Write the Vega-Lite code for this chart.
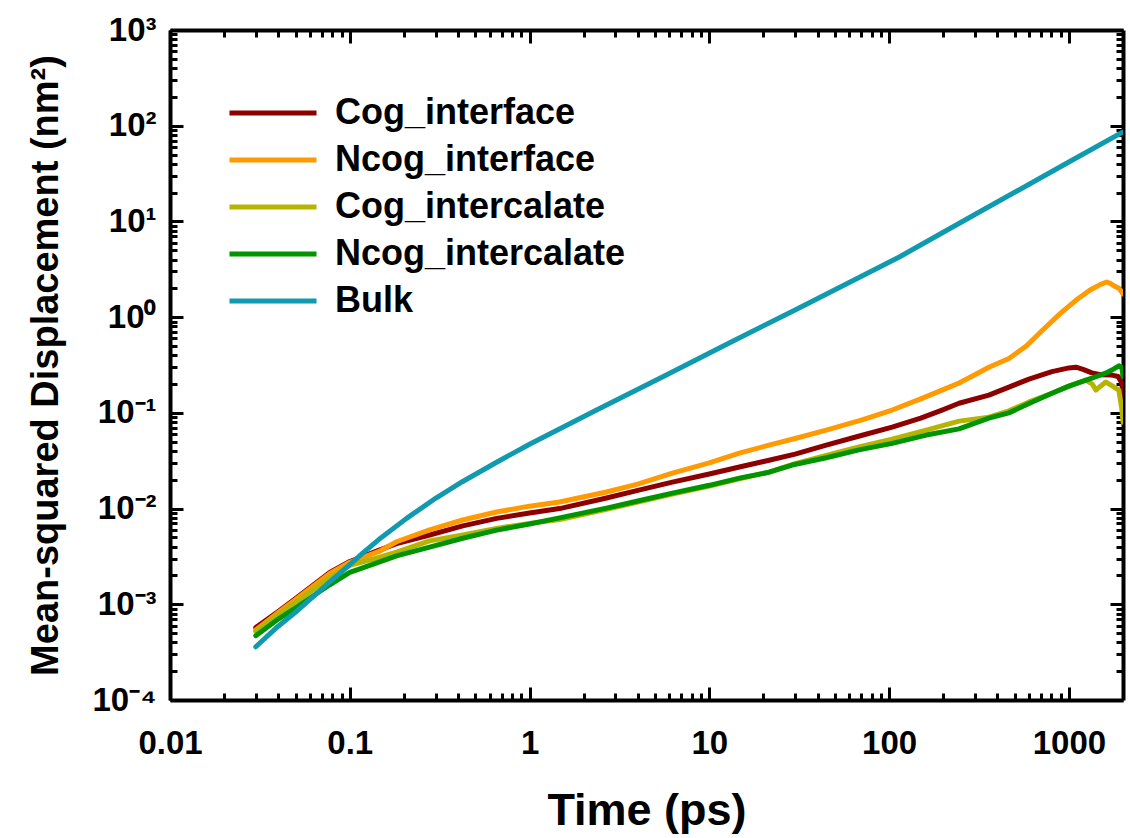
{
  "$schema": "https://vega.github.io/schema/vega-lite/v6.json",
  "width": 953,
  "height": 670,
  "autosize": {"type": "none"},
  "padding": {"left": 170, "top": 30, "right": 7, "bottom": 138},
  "background": "white",
  "config": {"view": {"stroke": null}, "font": "Liberation Sans"},
  "datasets": {
    "msd": [
      {"series": "Cog_interface", "t": 0.03, "msd": 0.00057},
      {"series": "Cog_interface", "t": 0.04, "msd": 0.00084},
      {"series": "Cog_interface", "t": 0.05, "msd": 0.00115},
      {"series": "Cog_interface", "t": 0.0774, "msd": 0.00215},
      {"series": "Cog_interface", "t": 0.1, "msd": 0.0028},
      {"series": "Cog_interface", "t": 0.147, "msd": 0.0037},
      {"series": "Cog_interface", "t": 0.182, "msd": 0.0043},
      {"series": "Cog_interface", "t": 0.278, "msd": 0.0053},
      {"series": "Cog_interface", "t": 0.425, "msd": 0.0066},
      {"series": "Cog_interface", "t": 0.656, "msd": 0.0079},
      {"series": "Cog_interface", "t": 1.0, "msd": 0.009},
      {"series": "Cog_interface", "t": 1.47, "msd": 0.01},
      {"series": "Cog_interface", "t": 2.68, "msd": 0.0129},
      {"series": "Cog_interface", "t": 4.0, "msd": 0.0155},
      {"series": "Cog_interface", "t": 6.23, "msd": 0.0189},
      {"series": "Cog_interface", "t": 10, "msd": 0.023},
      {"series": "Cog_interface", "t": 14.7, "msd": 0.0272},
      {"series": "Cog_interface", "t": 21.5, "msd": 0.032},
      {"series": "Cog_interface", "t": 30, "msd": 0.037},
      {"series": "Cog_interface", "t": 44.7, "msd": 0.046},
      {"series": "Cog_interface", "t": 70, "msd": 0.058},
      {"series": "Cog_interface", "t": 104, "msd": 0.071},
      {"series": "Cog_interface", "t": 150, "msd": 0.088},
      {"series": "Cog_interface", "t": 197, "msd": 0.107},
      {"series": "Cog_interface", "t": 245, "msd": 0.126},
      {"series": "Cog_interface", "t": 359, "msd": 0.153},
      {"series": "Cog_interface", "t": 464, "msd": 0.186},
      {"series": "Cog_interface", "t": 600, "msd": 0.225},
      {"series": "Cog_interface", "t": 805, "msd": 0.27},
      {"series": "Cog_interface", "t": 1000, "msd": 0.295},
      {"series": "Cog_interface", "t": 1094, "msd": 0.3},
      {"series": "Cog_interface", "t": 1200, "msd": 0.285},
      {"series": "Cog_interface", "t": 1342, "msd": 0.262},
      {"series": "Cog_interface", "t": 1500, "msd": 0.25},
      {"series": "Cog_interface", "t": 1734, "msd": 0.248},
      {"series": "Cog_interface", "t": 1880, "msd": 0.24},
      {"series": "Cog_interface", "t": 1969, "msd": 0.205},
      {"series": "Cog_interface", "t": 2000, "msd": 0.15},

      {"series": "Ncog_interface", "t": 0.03, "msd": 0.00054},
      {"series": "Ncog_interface", "t": 0.04, "msd": 0.00082},
      {"series": "Ncog_interface", "t": 0.05, "msd": 0.00112},
      {"series": "Ncog_interface", "t": 0.0774, "msd": 0.0021},
      {"series": "Ncog_interface", "t": 0.1, "msd": 0.00275},
      {"series": "Ncog_interface", "t": 0.147, "msd": 0.0036},
      {"series": "Ncog_interface", "t": 0.182, "msd": 0.0045},
      {"series": "Ncog_interface", "t": 0.278, "msd": 0.006},
      {"series": "Ncog_interface", "t": 0.425, "msd": 0.0076},
      {"series": "Ncog_interface", "t": 0.656, "msd": 0.0092},
      {"series": "Ncog_interface", "t": 1.0, "msd": 0.0106},
      {"series": "Ncog_interface", "t": 1.47, "msd": 0.0117},
      {"series": "Ncog_interface", "t": 2.68, "msd": 0.0149},
      {"series": "Ncog_interface", "t": 4.0, "msd": 0.018},
      {"series": "Ncog_interface", "t": 6.23, "msd": 0.0235},
      {"series": "Ncog_interface", "t": 10, "msd": 0.03},
      {"series": "Ncog_interface", "t": 14.7, "msd": 0.038},
      {"series": "Ncog_interface", "t": 21.5, "msd": 0.046},
      {"series": "Ncog_interface", "t": 30, "msd": 0.054},
      {"series": "Ncog_interface", "t": 44.7, "msd": 0.066},
      {"series": "Ncog_interface", "t": 70, "msd": 0.084},
      {"series": "Ncog_interface", "t": 104, "msd": 0.107},
      {"series": "Ncog_interface", "t": 150, "msd": 0.14},
      {"series": "Ncog_interface", "t": 197, "msd": 0.173},
      {"series": "Ncog_interface", "t": 245, "msd": 0.205},
      {"series": "Ncog_interface", "t": 300, "msd": 0.25},
      {"series": "Ncog_interface", "t": 359, "msd": 0.3},
      {"series": "Ncog_interface", "t": 464, "msd": 0.37},
      {"series": "Ncog_interface", "t": 580, "msd": 0.5},
      {"series": "Ncog_interface", "t": 708, "msd": 0.72},
      {"series": "Ncog_interface", "t": 900, "msd": 1.1},
      {"series": "Ncog_interface", "t": 1094, "msd": 1.5},
      {"series": "Ncog_interface", "t": 1300, "msd": 1.9},
      {"series": "Ncog_interface", "t": 1500, "msd": 2.2},
      {"series": "Ncog_interface", "t": 1626, "msd": 2.33},
      {"series": "Ncog_interface", "t": 1700, "msd": 2.25},
      {"series": "Ncog_interface", "t": 1800, "msd": 2.1},
      {"series": "Ncog_interface", "t": 1900, "msd": 2.0},
      {"series": "Ncog_interface", "t": 2000, "msd": 1.75},

      {"series": "Cog_intercalate", "t": 0.03, "msd": 0.00052},
      {"series": "Cog_intercalate", "t": 0.04, "msd": 0.00078},
      {"series": "Cog_intercalate", "t": 0.05, "msd": 0.00105},
      {"series": "Cog_intercalate", "t": 0.0774, "msd": 0.0019},
      {"series": "Cog_intercalate", "t": 0.1, "msd": 0.00255},
      {"series": "Cog_intercalate", "t": 0.147, "msd": 0.0031},
      {"series": "Cog_intercalate", "t": 0.182, "msd": 0.0035},
      {"series": "Cog_intercalate", "t": 0.278, "msd": 0.0046},
      {"series": "Cog_intercalate", "t": 0.425, "msd": 0.0053},
      {"series": "Cog_intercalate", "t": 0.656, "msd": 0.0062},
      {"series": "Cog_intercalate", "t": 1.0, "msd": 0.007},
      {"series": "Cog_intercalate", "t": 1.47, "msd": 0.0077},
      {"series": "Cog_intercalate", "t": 2.68, "msd": 0.0098},
      {"series": "Cog_intercalate", "t": 4.0, "msd": 0.0117},
      {"series": "Cog_intercalate", "t": 6.23, "msd": 0.0142},
      {"series": "Cog_intercalate", "t": 10, "msd": 0.0172},
      {"series": "Cog_intercalate", "t": 14.7, "msd": 0.0205},
      {"series": "Cog_intercalate", "t": 21.5, "msd": 0.024},
      {"series": "Cog_intercalate", "t": 30, "msd": 0.0295},
      {"series": "Cog_intercalate", "t": 44.7, "msd": 0.036},
      {"series": "Cog_intercalate", "t": 68, "msd": 0.044},
      {"series": "Cog_intercalate", "t": 104, "msd": 0.053},
      {"series": "Cog_intercalate", "t": 161, "msd": 0.066},
      {"series": "Cog_intercalate", "t": 245, "msd": 0.082},
      {"series": "Cog_intercalate", "t": 359, "msd": 0.09},
      {"series": "Cog_intercalate", "t": 464, "msd": 0.105},
      {"series": "Cog_intercalate", "t": 600, "msd": 0.13},
      {"series": "Cog_intercalate", "t": 805, "msd": 0.16},
      {"series": "Cog_intercalate", "t": 1000, "msd": 0.19},
      {"series": "Cog_intercalate", "t": 1242, "msd": 0.22},
      {"series": "Cog_intercalate", "t": 1350, "msd": 0.2},
      {"series": "Cog_intercalate", "t": 1413, "msd": 0.173},
      {"series": "Cog_intercalate", "t": 1500, "msd": 0.19},
      {"series": "Cog_intercalate", "t": 1606, "msd": 0.21},
      {"series": "Cog_intercalate", "t": 1750, "msd": 0.19},
      {"series": "Cog_intercalate", "t": 1896, "msd": 0.173},
      {"series": "Cog_intercalate", "t": 1969, "msd": 0.11},
      {"series": "Cog_intercalate", "t": 2000, "msd": 0.08},

      {"series": "Ncog_intercalate", "t": 0.03, "msd": 0.00047},
      {"series": "Ncog_intercalate", "t": 0.04, "msd": 0.0007},
      {"series": "Ncog_intercalate", "t": 0.05, "msd": 0.00092},
      {"series": "Ncog_intercalate", "t": 0.0774, "msd": 0.0016},
      {"series": "Ncog_intercalate", "t": 0.1, "msd": 0.00215},
      {"series": "Ncog_intercalate", "t": 0.118, "msd": 0.0024},
      {"series": "Ncog_intercalate", "t": 0.182, "msd": 0.0032},
      {"series": "Ncog_intercalate", "t": 0.278, "msd": 0.00396},
      {"series": "Ncog_intercalate", "t": 0.425, "msd": 0.0049},
      {"series": "Ncog_intercalate", "t": 0.656, "msd": 0.00596},
      {"series": "Ncog_intercalate", "t": 1.0, "msd": 0.0069},
      {"series": "Ncog_intercalate", "t": 1.47, "msd": 0.008},
      {"series": "Ncog_intercalate", "t": 2.68, "msd": 0.0101},
      {"series": "Ncog_intercalate", "t": 4.0, "msd": 0.012},
      {"series": "Ncog_intercalate", "t": 6.23, "msd": 0.0145},
      {"series": "Ncog_intercalate", "t": 10, "msd": 0.0175},
      {"series": "Ncog_intercalate", "t": 14.7, "msd": 0.0208},
      {"series": "Ncog_intercalate", "t": 21.5, "msd": 0.024},
      {"series": "Ncog_intercalate", "t": 28.9, "msd": 0.0285},
      {"series": "Ncog_intercalate", "t": 44.7, "msd": 0.034},
      {"series": "Ncog_intercalate", "t": 68, "msd": 0.041},
      {"series": "Ncog_intercalate", "t": 104, "msd": 0.048},
      {"series": "Ncog_intercalate", "t": 161, "msd": 0.0586},
      {"series": "Ncog_intercalate", "t": 245, "msd": 0.068},
      {"series": "Ncog_intercalate", "t": 359, "msd": 0.088},
      {"series": "Ncog_intercalate", "t": 464, "msd": 0.1},
      {"series": "Ncog_intercalate", "t": 600, "msd": 0.125},
      {"series": "Ncog_intercalate", "t": 805, "msd": 0.16},
      {"series": "Ncog_intercalate", "t": 1000, "msd": 0.19},
      {"series": "Ncog_intercalate", "t": 1342, "msd": 0.23},
      {"series": "Ncog_intercalate", "t": 1600, "msd": 0.26},
      {"series": "Ncog_intercalate", "t": 1734, "msd": 0.28},
      {"series": "Ncog_intercalate", "t": 1896, "msd": 0.31},
      {"series": "Ncog_intercalate", "t": 1969, "msd": 0.3},
      {"series": "Ncog_intercalate", "t": 2000, "msd": 0.24},

      {"series": "Bulk", "t": 0.03, "msd": 0.00036},
      {"series": "Bulk", "t": 0.04, "msd": 0.00059},
      {"series": "Bulk", "t": 0.05, "msd": 0.00083},
      {"series": "Bulk", "t": 0.0774, "msd": 0.00171},
      {"series": "Bulk", "t": 0.1, "msd": 0.0026},
      {"series": "Bulk", "t": 0.118, "msd": 0.00343},
      {"series": "Bulk", "t": 0.15, "msd": 0.005},
      {"series": "Bulk", "t": 0.207, "msd": 0.0079},
      {"series": "Bulk", "t": 0.3, "msd": 0.0128},
      {"series": "Bulk", "t": 0.425, "msd": 0.0192},
      {"series": "Bulk", "t": 0.656, "msd": 0.0305},
      {"series": "Bulk", "t": 1.0, "msd": 0.047},
      {"series": "Bulk", "t": 2.36, "msd": 0.107},
      {"series": "Bulk", "t": 5.48, "msd": 0.237},
      {"series": "Bulk", "t": 12.9, "msd": 0.536},
      {"series": "Bulk", "t": 30, "msd": 1.19},
      {"series": "Bulk", "t": 114, "msd": 4.25},
      {"series": "Bulk", "t": 300, "msd": 11.8},
      {"series": "Bulk", "t": 1000, "msd": 41.8},
      {"series": "Bulk", "t": 2000, "msd": 86}
    ]
  },
  "data": {"name": "msd"},
  "layer": [
    {
      "mark": {"type": "line", "strokeWidth": 5, "strokeJoin": "round", "strokeCap": "round", "clip": true},
      "encoding": {
        "x": {
          "field": "t", "type": "quantitative",
          "scale": {"type": "log", "domain": [0.01, 2000], "nice": false},
          "axis": {
            "orient": "bottom",
            "title": "Time (ps)",
            "values": [0.01,0.02,0.03,0.04,0.05,0.06,0.07,0.08,0.09,0.1,0.2,0.3,0.4,0.5,0.6,0.7,0.8,0.9,1,2,3,4,5,6,7,8,9,10,20,30,40,50,60,70,80,90,100,200,300,400,500,600,700,800,900,1000],
            "labelExpr": "abs(log(datum.value)/LN10 - round(log(datum.value)/LN10)) < 0.001 ? format(datum.value, '~g') : ''",
            "tickSize": {"condition": {"test": "abs(log(datum.value)/LN10 - round(log(datum.value)/LN10)) < 0.001", "value": -13}, "value": -7},
            "tickWidth": 3, "tickColor": "black",
            "domainWidth": 4, "domainColor": "black",
            "grid": false, "labelOverlap": false, "labelFlush": false,
            "labelPadding": 40, "labelFont": "Liberation Sans", "labelFontSize": 33, "labelFontWeight": "bold", "labelColor": "black",
            "titleFont": "Liberation Sans", "titleFontSize": 45, "titleFontWeight": "bold", "titleColor": "black", "titlePadding": 22
          }
        },
        "y": {
          "field": "msd", "type": "quantitative",
          "scale": {"type": "log", "domain": [0.0001, 1000], "nice": false},
          "axis": {
            "orient": "left",
            "title": "Mean-squared Displacement (nm²)",
            "values": [0.0001,0.0002,0.0003,0.0004,0.0005,0.0006,0.0007,0.0008,0.0009,0.001,0.002,0.003,0.004,0.005,0.006,0.007,0.008,0.009,0.01,0.02,0.03,0.04,0.05,0.06,0.07,0.08,0.09,0.1,0.2,0.3,0.4,0.5,0.6,0.7,0.8,0.9,1,2,3,4,5,6,7,8,9,10,20,30,40,50,60,70,80,90,100,200,300,400,500,600,700,800,900,1000],
            "labelExpr": "abs(log(datum.value)/LN10 - round(log(datum.value)/LN10)) < 0.001 ? '10' + ['⁻⁴','⁻³','⁻²','⁻¹','⁰','¹','²','³'][round(log(datum.value)/LN10) + 4] : ''",
            "tickSize": {"condition": {"test": "abs(log(datum.value)/LN10 - round(log(datum.value)/LN10)) < 0.001", "value": -13}, "value": -7},
            "tickWidth": 3, "tickColor": "black",
            "domainWidth": 4, "domainColor": "black",
            "grid": false, "labelOverlap": false, "labelFlush": false,
            "labelPadding": 27, "labelFont": "Liberation Sans", "labelFontSize": 33, "labelFontWeight": "bold", "labelColor": "black",
            "titleFont": "Liberation Sans", "titleFontSize": 38, "titleFontWeight": "bold", "titleColor": "black", "titlePadding": 26
          }
        },
        "color": {
          "field": "series", "type": "nominal",
          "scale": {
            "domain": ["Cog_interface", "Ncog_interface", "Cog_intercalate", "Ncog_intercalate", "Bulk"],
            "range": ["#8c0000", "#ff9a00", "#b5b500", "#009400", "#0f9ab0"]
          },
          "legend": {
            "orient": "none", "legendX": 85, "legendY": 65, "title": null, "padding": 0,
            "symbolType": "M-5,0H5", "symbolSize": 303, "symbolStrokeWidth": 5,
            "labelOffset": 44, "rowPadding": 11, "labelLimit": 500,
            "labelFont": "Liberation Sans", "labelFontSize": 36, "labelFontWeight": "bold", "labelColor": "black"
          }
        }
      }
    },
    {
      "mark": {"type": "line", "strokeOpacity": 0},
      "encoding": {
        "x": {
          "field": "t", "type": "quantitative",
          "scale": {"type": "log", "domain": [0.01, 2000], "nice": false},
          "axis": {
            "orient": "top", "title": null, "labels": false,
            "values": [0.01,0.02,0.03,0.04,0.05,0.06,0.07,0.08,0.09,0.1,0.2,0.3,0.4,0.5,0.6,0.7,0.8,0.9,1,2,3,4,5,6,7,8,9,10,20,30,40,50,60,70,80,90,100,200,300,400,500,600,700,800,900,1000],
            "tickSize": {"condition": {"test": "abs(log(datum.value)/LN10 - round(log(datum.value)/LN10)) < 0.001", "value": -13}, "value": -7},
            "tickWidth": 3, "tickColor": "black", "domainWidth": 4, "domainColor": "black", "grid": false
          }
        },
        "y": {
          "field": "msd", "type": "quantitative",
          "scale": {"type": "log", "domain": [0.0001, 1000], "nice": false},
          "axis": {
            "orient": "right", "title": null, "labels": false,
            "values": [0.0001,0.0002,0.0003,0.0004,0.0005,0.0006,0.0007,0.0008,0.0009,0.001,0.002,0.003,0.004,0.005,0.006,0.007,0.008,0.009,0.01,0.02,0.03,0.04,0.05,0.06,0.07,0.08,0.09,0.1,0.2,0.3,0.4,0.5,0.6,0.7,0.8,0.9,1,2,3,4,5,6,7,8,9,10,20,30,40,50,60,70,80,90,100,200,300,400,500,600,700,800,900,1000],
            "tickSize": {"condition": {"test": "abs(log(datum.value)/LN10 - round(log(datum.value)/LN10)) < 0.001", "value": -13}, "value": -7},
            "tickWidth": 3, "tickColor": "black", "domainWidth": 4, "domainColor": "black", "grid": false
          }
        },
        "detail": {"field": "series", "type": "nominal"}
      }
    }
  ],
  "resolve": {"axis": {"x": "independent", "y": "independent"}}
}
